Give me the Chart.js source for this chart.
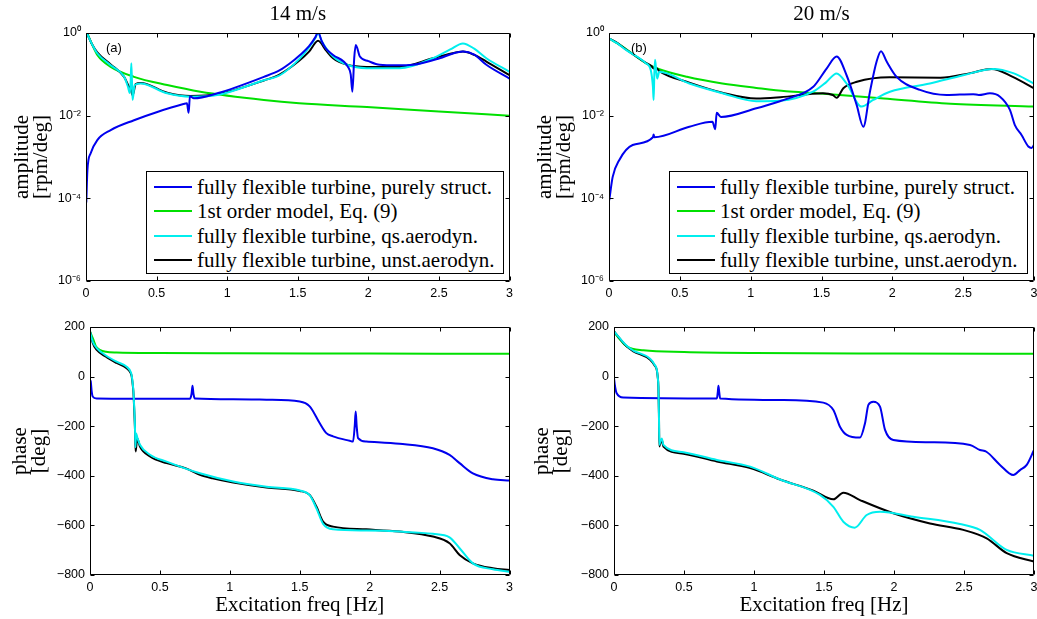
<!DOCTYPE html>
<html>
<head>
<meta charset="utf-8">
<script src="https://cdn.jsdelivr.net/npm/chart.js@4.4.0/dist/chart.umd.min.js"></script>
<style>
  html, body { margin: 0; padding: 0; background: #fff; overflow: hidden; }
  #wrap { position: relative; width: 1037px; height: 619px; overflow: hidden; }
  canvas { position: absolute; }
  .legend { position: absolute; border: 1px solid #000; background: #fff; box-sizing: border-box;
            font: 21px "Liberation Serif", "Times New Roman", serif; color: #000; }
  .legend div { position: absolute; left: 50px; white-space: nowrap; line-height: 24px; height: 24px; }
  .legend span { position: absolute; left: -43px; top: 11px; width: 38px; height: 2px; }
  .tag { position: absolute; font: 13px "Liberation Sans", Arial, sans-serif; line-height: 15px; color: #000; }
</style>
</head>
<body>
<div id="wrap">
  <canvas id="amp14"></canvas>
  <canvas id="amp20"></canvas>
  <canvas id="ph14"></canvas>
  <canvas id="ph20"></canvas>
  <div class="legend" id="leg14" style="left:146px; top:171px; width:358px; height:103px;"></div>
  <div class="legend" id="leg20" style="left:669px; top:171px; width:359px; height:103px;"></div>
  <div class="tag" style="left:106px; top:40px;">(a)</div>
  <div class="tag" style="left:631px; top:40px;">(b)</div>
</div>
<script>
// ** DATA: ** //

var SERIES = ['fully flexible turbine, purely struct.', '1st order model, Eq. (9)',
              'fully flexible turbine, qs.aerodyn.', 'fully flexible turbine, unst.aerodyn.'];
var COLORS = ['#0000ee', '#00e000', '#00eeee', '#000000'];

var LOG_TICKS = [1e-6, 1e-4, 1e-2, 1];

// amplitude, 14 m/s
var f14Struct = [0.002, 0.01, 0.033, 0.08, 0.175, 0.34, 0.505, 0.69, 0.715, 0.727, 0.736, 0.764, 0.93, 1.26, 1.373, 1.45, 1.51, 1.58, 1.625, 1.644, 1.67, 1.70, 1.75, 1.856, 1.875, 1.887, 1.90, 1.911, 1.94, 2.0, 2.08, 2.2, 2.316, 2.505, 2.6, 2.67, 2.75, 2.836, 3.0];
var amp14Struct = [7.9e-5, 4.8e-4, 1.23e-3, 2.57e-3, 4.47e-3, 7.76e-3, 0.0123, 0.0191, 0.0200, 0.0117, 0.0295, 0.0263, 0.0347, 0.087, 0.126, 0.19, 0.282, 0.479, 0.794, 1.05, 0.631, 0.417, 0.295, 0.151, 0.1, 0.038, 0.251, 0.513, 0.269, 0.209, 0.170, 0.165, 0.170, 0.245, 0.32, 0.355, 0.30, 0.170, 0.079];

var f14Model = [0, 0.02, 0.045, 0.08, 0.175, 0.34, 0.575, 0.81, 1.26, 1.51, 1.99, 2.5, 3.0];
var amp14Model = [1.15, 0.81, 0.51, 0.295, 0.151, 0.087, 0.055, 0.038, 0.024, 0.020, 0.0162, 0.0126, 0.010];

var f14Qs = [0.003, 0.04, 0.08, 0.175, 0.27, 0.297, 0.31, 0.316, 0.321, 0.326, 0.33, 0.345, 0.387, 0.575, 0.74, 0.93, 1.26, 1.373, 1.514, 1.58, 1.625, 1.644, 1.67, 1.75, 1.85, 1.986, 2.222, 2.458, 2.58, 2.67, 2.75, 2.836, 3.0];
var amp14Qs = [1.05, 0.56, 0.324, 0.166, 0.087, 0.05, 0.0355, 0.063, 0.186, 0.063, 0.024, 0.055, 0.060, 0.0347, 0.0288, 0.0316, 0.072, 0.095, 0.24, 0.447, 0.76, 1.0, 0.63, 0.269, 0.17, 0.141, 0.141, 0.245, 0.40, 0.56, 0.417, 0.245, 0.115];

var f14Unst = [0.003, 0.04, 0.08, 0.175, 0.27, 0.30, 0.318, 0.33, 0.352, 0.387, 0.575, 0.74, 0.93, 1.26, 1.373, 1.514, 1.58, 1.644, 1.70, 1.75, 1.85, 1.986, 2.222, 2.458, 2.58, 2.67, 2.75, 2.836, 3.0];
var amp14Unst = [1.05, 0.56, 0.339, 0.174, 0.087, 0.054, 0.042, 0.031, 0.058, 0.062, 0.036, 0.030, 0.033, 0.071, 0.1, 0.219, 0.355, 0.646, 0.38, 0.245, 0.17, 0.151, 0.151, 0.245, 0.316, 0.355, 0.295, 0.204, 0.095];

// amplitude, 20 m/s
var f20Struct = [0.002, 0.026, 0.073, 0.167, 0.31, 0.315, 0.32, 0.567, 0.73, 0.75, 0.76, 0.79, 1.04, 1.207, 1.25, 1.442, 1.536, 1.607, 1.677, 1.748, 1.795, 1.842, 1.889, 1.92, 1.96, 2.03, 2.195, 2.383, 2.571, 2.61, 2.689, 2.76, 2.83, 2.865, 2.912, 2.96, 2.983, 3.0];
var amp20Struct = [9.1e-5, 3.3e-4, 8.5e-4, 1.95e-3, 3.0e-3, 3.5e-3, 3.0e-3, 5.4e-3, 7.1e-3, 4.7e-3, 0.0117, 0.0093, 0.0151, 0.0224, 0.0251, 0.05, 0.138, 0.269, 0.095, 0.0182, 0.0054, 0.038, 0.204, 0.363, 0.204, 0.087, 0.042, 0.0316, 0.0331, 0.0316, 0.0347, 0.0288, 0.0138, 0.0059, 0.0034, 0.0018, 0.00166, 0.00195];

var f20Model = [0, 0.06, 0.12, 0.26, 0.34, 0.55, 0.8, 1.04, 1.25, 1.47, 1.94, 2.41, 3.0];
var amp20Model = [0.74, 0.56, 0.41, 0.186, 0.138, 0.087, 0.060, 0.047, 0.039, 0.035, 0.026, 0.0195, 0.0166];

var f20Qs = [0, 0.06, 0.12, 0.26, 0.295, 0.31, 0.315, 0.32, 0.325, 0.333, 0.34, 0.355, 0.567, 0.80, 1.04, 1.21, 1.44, 1.53, 1.607, 1.677, 1.783, 1.865, 1.983, 2.265, 2.5, 2.712, 2.853, 3.0];
var amp20Qs = [0.74, 0.56, 0.39, 0.186, 0.126, 0.05, 0.024, 0.1, 0.224, 0.126, 0.079, 0.115, 0.060, 0.035, 0.0224, 0.023, 0.038, 0.063, 0.105, 0.060, 0.0166, 0.024, 0.038, 0.060, 0.095, 0.135, 0.107, 0.060];

var f20Unst = [0, 0.06, 0.12, 0.26, 0.30, 0.315, 0.33, 0.355, 0.567, 0.80, 1.04, 1.21, 1.51, 1.58, 1.607, 1.654, 1.75, 1.98, 2.34, 2.55, 2.70, 2.85, 3.0];
var amp20Unst = [0.74, 0.57, 0.40, 0.19, 0.158, 0.138, 0.145, 0.120, 0.063, 0.036, 0.026, 0.028, 0.035, 0.0316, 0.027, 0.046, 0.066, 0.085, 0.083, 0.107, 0.135, 0.087, 0.046];

// phase, 14 m/s
var fp14Struct = [0, 0.005, 0.012, 0.019, 0.048, 0.3, 0.714, 0.726, 0.733, 0.74, 0.75, 1.024, 1.262, 1.5, 1.571, 1.643, 1.69, 1.738, 1.857, 1.881, 1.893, 1.9, 1.907, 1.917, 1.976, 2.214, 2.452, 2.571, 2.643, 2.738, 2.881, 3.0];
var ph14Struct = [-15, -19, -60, -80, -88, -89, -89, -70, -37, -70, -88, -91, -93, -100, -120, -188, -228, -241, -259, -262, -200, -141, -200, -248, -262, -271, -289, -316, -349, -390, -414, -419];

var fp14Model = [0, 0.01, 0.024, 0.043, 0.07, 0.114, 0.19, 0.5, 1.0, 2.0, 3.0];
var ph14Model = [182, 168, 149, 121, 108, 100, 97, 95, 94, 93, 92];

var fp14Qs = [0, 0.02, 0.048, 0.114, 0.19, 0.262, 0.29, 0.298, 0.305, 0.31, 0.316, 0.321, 0.325, 0.329, 0.338, 0.357, 0.429, 0.548, 0.786, 1.024, 1.262, 1.5, 1.571, 1.619, 1.667, 1.738, 1.976, 2.214, 2.452, 2.571, 2.643, 2.738, 2.881, 3.0];
var ph14Qs = [182, 140, 115, 85, 60, 40, 20, 5, -25, -55, -120, -190, -285, -228, -245, -275, -315, -343, -390, -423, -444, -459, -478, -531, -594, -616, -621, -625, -634, -648, -692, -753, -777, -787];

var fp14Unst = [0, 0.02, 0.048, 0.114, 0.19, 0.262, 0.29, 0.298, 0.305, 0.31, 0.316, 0.321, 0.326, 0.332, 0.338, 0.357, 0.429, 0.548, 0.686, 0.786, 0.876, 1.024, 1.262, 1.5, 1.571, 1.619, 1.667, 1.738, 1.976, 2.214, 2.452, 2.571, 2.643, 2.738, 2.881, 3.0];
var ph14Unst = [182, 135, 108, 80, 55, 34, 15, 1, -30, -60, -130, -201, -302, -275, -250, -282, -322, -349, -370, -396, -410, -427, -447, -461, -477, -524, -585, -605, -616, -625, -645, -672, -719, -753, -773, -780];

// phase, 20 m/s
var fp20Struct = [0, 0.005, 0.019, 0.067, 0.735, 0.741, 0.746, 0.752, 0.758, 1.21, 1.495, 1.567, 1.614, 1.662, 1.757, 1.793, 1.817, 1.852, 1.9, 1.936, 1.995, 2.257, 2.543, 2.614, 2.66, 2.757, 2.852, 2.9, 2.948, 3.0];
var ph20Struct = [-6, -30, -67, -84, -88, -65, -37, -65, -88, -94, -105, -135, -202, -235, -246, -188, -114, -101, -121, -215, -256, -265, -276, -296, -303, -356, -397, -377, -356, -296];

var fp20Model = [0, 0.02, 0.043, 0.09, 0.21, 0.5, 1.0, 2.0, 3.0];
var ph20Model = [182, 165, 149, 122, 106, 99, 95, 93, 92];

var fp20Qs = [0, 0.09, 0.138, 0.258, 0.29, 0.305, 0.312, 0.317, 0.321, 0.324, 0.33, 0.341, 0.353, 0.496, 0.735, 0.973, 1.186, 1.471, 1.567, 1.638, 1.72, 1.805, 1.9, 2.138, 2.471, 2.614, 2.805, 3.0];
var ph20Qs = [182, 124, 105, 72, 48, 30, 0, -40, -150, -275, -262, -250, -275, -305, -336, -363, -415, -477, -525, -585, -609, -558, -545, -565, -594, -618, -699, -722];

var fp20Unst = [0, 0.09, 0.138, 0.258, 0.29, 0.305, 0.312, 0.317, 0.321, 0.324, 0.33, 0.341, 0.353, 0.496, 0.735, 0.973, 1.186, 1.424, 1.567, 1.638, 1.757, 1.995, 2.257, 2.495, 2.662, 2.805, 3.0];
var ph20Unst = [182, 122, 102, 68, 45, 28, 0, -40, -150, -282, -270, -255, -282, -311, -342, -369, -415, -460, -495, -468, -498, -551, -592, -618, -652, -712, -746];

// ** FUNCTIONS: ** //

var SANS = '"Liberation Sans", Arial, sans-serif';
var SERIF = '"Liberation Serif", "Times New Roman", serif';
var TICK_FONT = {family: SANS, size: 12.5};

Chart.defaults.color = '#000';

function pts(f, v) {
	return f.map(function (x, i) { return {x: x, y: v[i]}; });
}

var SUP = {'0': '\u2070', '1': '\u00b9', '2': '\u00b2', '3': '\u00b3', '4': '\u2074', '5': '\u2075', '6': '\u2076', '-': '\u207b'};
function powLabel(v) {
	var e = String(Math.round(Math.log10(v)));
	return '10' + e.split('').map(function (c) { return SUP[c]; }).join('');
}

function line(data, idx, order) {
	return {
		data: data, borderColor: COLORS[idx], borderWidth: 2, pointRadius: 0,
		cubicInterpolationMode: 'monotone', fill: false, order: order
	};
}

// box round the axes, with MATLAB style ticks pointing inwards
var framePlugin = {
	id: 'frame',
	afterDatasetsDraw: function (chart) {
		var ctx = chart.ctx, a = chart.chartArea;
		var xs = chart.scales.x, ys = chart.scales.y;
		var L = Math.round(a.left) + 0.5, R = Math.round(a.right) - 0.5;
		var T = Math.round(a.top) + 0.5, B = Math.round(a.bottom) - 0.5;
		ctx.save();
		ctx.strokeStyle = '#000';
		ctx.lineWidth = 1;
		ctx.beginPath();
		ctx.rect(L, T, R - L, B - T);
		xs.ticks.forEach(function (t) {
			var p = Math.round(xs.getPixelForValue(t.value)) + 0.5;
			ctx.moveTo(p, B); ctx.lineTo(p, B - 4);
			ctx.moveTo(p, T); ctx.lineTo(p, T + 4);
		});
		ys.ticks.forEach(function (t) {
			var p = Math.round(ys.getPixelForValue(t.value)) + 0.5;
			ctx.moveTo(L, p); ctx.lineTo(L + 4, p);
			ctx.moveTo(R, p); ctx.lineTo(R - 4, p);
		});
		ctx.stroke();
		ctx.restore();
	}
};

function generatePanel(id, geo, opts) {
	var cv = document.getElementById(id);
	cv.width = geo.w; cv.height = geo.h;
	cv.style.left = geo.x + 'px'; cv.style.top = geo.y + 'px';
	var yWidth = geo.l - geo.x;
	var xHeight = geo.y + geo.h - geo.b;
	var topSpace = geo.t - geo.y;

	var yScale;
	if (opts.log) {
		yScale = {
			type: 'logarithmic', min: 1e-6, max: 1,
			afterBuildTicks: function (s) { s.ticks = LOG_TICKS.map(function (v) { return {value: v}; }); },
			ticks: {autoSkip: false, padding: 5, font: TICK_FONT, callback: function (v) { return powLabel(v); }}
		};
	} else {
		yScale = {
			type: 'linear', min: -800, max: 200,
			ticks: {stepSize: 200, padding: 5, font: TICK_FONT,
				callback: function (v) { return v < 0 ? '\u2212' + (-v) : String(v); }}
		};
	}
	yScale.grid = {display: false, drawTicks: false};
	yScale.border = {display: false};
	yScale.title = {display: true, text: opts.yTitle, color: '#000',
		font: {family: SERIF, size: 21, lineHeight: '19px'}, padding: {top: opts.yPad, bottom: 0}};
	yScale.afterFit = function (s) { s.width = yWidth; };

	var xScale = {
		type: 'linear', min: 0, max: 3,
		grid: {display: false, drawTicks: false}, border: {display: false},
		ticks: {stepSize: 0.5, padding: 5, maxRotation: 0, font: TICK_FONT,
			callback: function (v) { return String(Math.round(v * 10) / 10); }},
		title: opts.xTitle ? {display: true, text: opts.xTitle, color: '#000',
			font: {family: SERIF, size: 21, lineHeight: '24px'}, padding: {top: 0, bottom: 2}} : {display: false},
		afterFit: function (s) { s.height = xHeight; }
	};

	return new Chart(cv, {
		type: 'line',
		data: {datasets: opts.datasets},
		options: {
			responsive: false, animation: false, events: [],
			layout: {padding: {left: 0, right: geo.x + geo.w - geo.r, top: opts.title ? 0 : topSpace, bottom: 0}},
			plugins: {
				legend: {display: false},
				tooltip: {enabled: false},
				title: opts.title ? {display: true, text: opts.title, fullSize: false, color: '#000',
					font: {family: SERIF, size: 21, weight: 'normal', lineHeight: '25px'},
					padding: {top: 2, bottom: topSpace - 27}} : {display: false}
			},
			scales: {x: xScale, y: yScale}
		},
		plugins: [framePlugin]
	});
}

function generateLegend(id) {
	var el = document.getElementById(id);
	for (var i = 0; i < SERIES.length; i++) {
		var row = document.createElement('div');
		row.style.top = (3 + i * 24.3) + 'px';
		var swatch = document.createElement('span');
		swatch.style.background = COLORS[i];
		row.appendChild(swatch);
		row.appendChild(document.createTextNode(SERIES[i]));
		el.appendChild(row);
	}
}

// ** ENTRY POINT: ** //

generatePanel('amp14', {x: 0, y: 0, w: 518, h: 300, l: 86, r: 511, t: 33, b: 281}, {
	log: true, title: '14 m/s', yTitle: ['amplitude', '[rpm/deg]'], yPad: 12.5,
	datasets: [
		line(pts(f14Struct, amp14Struct), 0, 0),
		line(pts(f14Model, amp14Model), 1, 3),
		line(pts(f14Qs, amp14Qs), 2, 1),
		line(pts(f14Unst, amp14Unst), 3, 2)
	]
});

generatePanel('amp20', {x: 518, y: 0, w: 525, h: 300, l: 609, r: 1034, t: 33, b: 281}, {
	log: true, title: '20 m/s', yTitle: ['amplitude', '[rpm/deg]'], yPad: 18,
	datasets: [
		line(pts(f20Struct, amp20Struct), 0, 0),
		line(pts(f20Model, amp20Model), 1, 3),
		line(pts(f20Qs, amp20Qs), 2, 1),
		line(pts(f20Unst, amp20Unst), 3, 2)
	]
});

generatePanel('ph14', {x: 0, y: 300, w: 518, h: 319, l: 90, r: 510, t: 327, b: 575}, {
	log: false, yTitle: ['phase', '[deg]'], yPad: 11, xTitle: 'Excitation freq [Hz]',
	datasets: [
		line(pts(fp14Struct, ph14Struct), 0, 1),
		line(pts(fp14Model, ph14Model), 1, 3),
		line(pts(fp14Qs, ph14Qs), 2, 0),
		line(pts(fp14Unst, ph14Unst), 3, 2)
	]
});

generatePanel('ph20', {x: 518, y: 300, w: 525, h: 319, l: 614, r: 1034, t: 327, b: 575}, {
	log: false, yTitle: ['phase', '[deg]'], yPad: 15, xTitle: 'Excitation freq [Hz]',
	datasets: [
		line(pts(fp20Struct, ph20Struct), 0, 1),
		line(pts(fp20Model, ph20Model), 1, 3),
		line(pts(fp20Qs, ph20Qs), 2, 0),
		line(pts(fp20Unst, ph20Unst), 3, 2)
	]
});

generateLegend('leg14');
generateLegend('leg20');
</script>
</body>
</html>
